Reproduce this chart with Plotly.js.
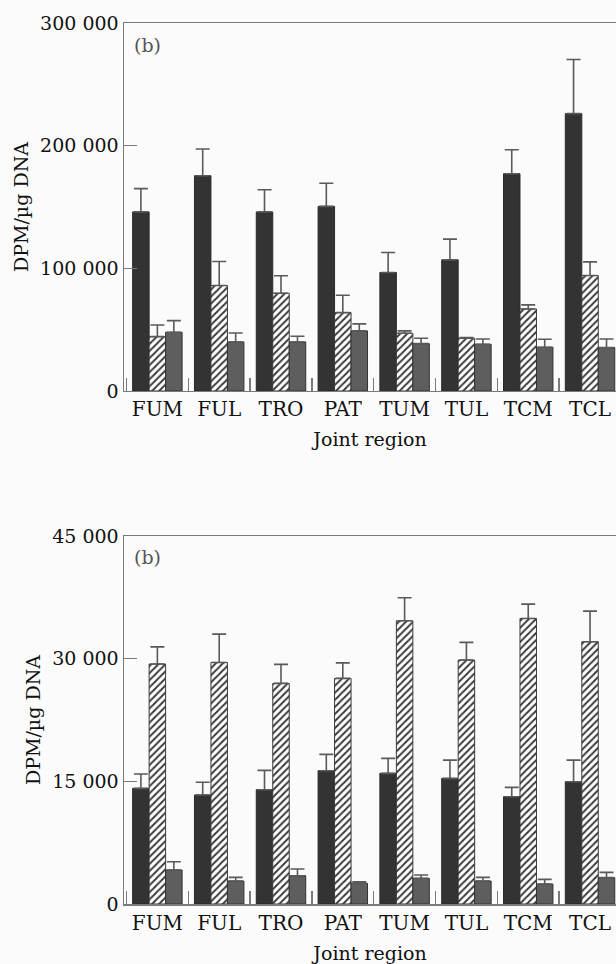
<!DOCTYPE html>
<html>
<head>
<meta charset="utf-8">
<script src="https://cdn.plot.ly/plotly-3.0.1.min.js"></script>
<style>html,body{margin:0;padding:0;background:#fbfbfb;}#chart{width:616px;height:964px;}</style>
</head>
<body>
<div id="chart"></div>
<script>
const regions = ['FUM','FUL','TRO','PAT','TUM','TUL','TCM','TCL'];

// Panel 1 (top)
const topDark      = [146000, 175500, 146000, 150500,  96600, 106900, 177100, 226100];
const topDarkErr   = [ 19000,  21800,  18000,  18800,  16300,  16900,  19600,  44100];
const topHatch     = [ 44300,  86000,  79700,  63900,  47100,  43000,  66900,  94100];
const topHatchErr  = [  9500,  19600,  14200,  14200,   1900,    500,   3300,  11200];
const topGray      = [ 47900,  40000,  40000,  49000,  38600,  38100,  35700,  35400];
const topGrayErr   = [  9500,   7300,   4600,   5700,   4400,   4300,   6500,   7000];

// Panel 2 (bottom)
const botDark      = [14140, 13330, 13980, 16300, 15980, 15360, 13120, 14950];
const botDarkErr   = [ 1750,  1550,  2360,  2000,  1830,  2240,  1140,  2650];
const botHatch     = [29340, 29540, 26980, 27590, 34640, 29830, 34920, 32070];
const botHatchErr  = [ 2100,  3460,  2320,  1900,  2810,  2160,  1750,  3750];
const botGray      = [ 4160,  2810,  3460,  2530,  3140,  2810,  2440,  3220];
const botGrayErr   = [ 1000,   450,   820,   200,   400,   450,   570,   650];

const topTickVals = [0, 100000, 200000, 300000];
const topTickText = ['0', '100 000', '200 000', '300 000'];
const botTickVals = [0, 15000, 30000, 45000];
const botTickText = ['0', '15 000', '30 000', '45 000'];

const FONT = 'DejaVu Serif, Liberation Serif, serif';
const zeros = a => a.map(() => 0);

function errY(arr){
  return {type:'data', symmetric:false, array:arr, arrayminus:zeros(arr),
          color:'#5a5a5a', thickness:1.6, width:7, visible:true};
}

function makeTraces(dark, darkErr, hatch, hatchErr, gray, grayErr, xa, ya){
  return [
    {type:'bar', x:regions, y:dark, xaxis:xa, yaxis:ya, showlegend:false,
     marker:{color:'#333333', line:{color:'#2a2a2a', width:1}}, error_y:errY(darkErr), hoverinfo:'skip'},
    {type:'bar', x:regions, y:hatch, xaxis:xa, yaxis:ya, showlegend:false,
     marker:{color:'#ffffff', line:{color:'#3a3a3a', width:1},
             pattern:{shape:'/', fgcolor:'#3a3a3a', bgcolor:'#ffffff', size:5, solidity:0.4}},
     error_y:errY(hatchErr), hoverinfo:'skip'},
    {type:'bar', x:regions, y:gray, xaxis:xa, yaxis:ya, showlegend:false,
     marker:{color:'#5e5e5e', line:{color:'#333333', width:1}}, error_y:errY(grayErr), hoverinfo:'skip'}
  ];
}

const data = [
  ...makeTraces(topDark, topDarkErr, topHatch, topHatchErr, topGray, topGrayErr, 'x', 'y'),
  ...makeTraces(botDark, botDarkErr, botHatch, botHatchErr, botGray, botGrayErr, 'x2', 'y2')
];

const axColor = '#7a7a7a';
function xAxis(anchor, standoff){
  return {anchor:anchor, domain:[0,1], type:'category', categoryarray:regions,
    range:[-0.54, 7.42], showline:true, linecolor:axColor, linewidth:1.5, mirror:true,
    ticks:'inside', tickson:'boundaries', ticklen:13, tickwidth:1.5, tickcolor:axColor,
    showgrid:false, zeroline:false, fixedrange:true,
    tickfont:{family:FONT, size:20, color:'#111'},
    title:{text:'Joint region', font:{family:FONT, size:19, color:'#111'}, standoff:standoff}};
}
function yAxis(anchor, domain, range, tv, tt){
  return {anchor:anchor, domain:domain, range:range, tickmode:'array', tickvals:tv, ticktext:tt,
    showline:true, linecolor:axColor, linewidth:1.5, mirror:false,
    ticks:'inside', ticklen:13, tickwidth:1.5, tickcolor:axColor,
    showgrid:false, zeroline:false, fixedrange:true,
    tickfont:{family:FONT, size:19, color:'#111'},
    title:{text:'DPM/µg DNA', font:{family:FONT, size:19, color:'#111'}, standoff:6}};
}

const layout = {
  width:616, height:964,
  margin:{l:124, r:0, t:23, b:60, pad:0},
  paper_bgcolor:'#fbfbfb', plot_bgcolor:'#fbfbfb',
  barmode:'group', bargap:0.2, bargroupgap:0,
  showlegend:false,
  font:{family:FONT, color:'#111'},
  xaxis: xAxis('y', 12),
  yaxis: yAxis('x', [0.5823, 1], [0, 300000], topTickVals, topTickText),
  xaxis2: xAxis('y2', 16),
  yaxis2: yAxis('x2', [0, 0.4177], [0, 45000], botTickVals, botTickText),
  annotations:[
    {text:'(b)', xref:'x domain', yref:'y domain', x:0.016, y:0.94, xanchor:'left', yanchor:'middle',
     showarrow:false, font:{family:FONT, size:19, color:'#555'}},
    {text:'(b)', xref:'x2 domain', yref:'y2 domain', x:0.016, y:0.943, xanchor:'left', yanchor:'middle',
     showarrow:false, font:{family:FONT, size:19, color:'#555'}}
  ]
};

Plotly.newPlot('chart', data, layout, {displayModeBar:false, staticPlot:true});
</script>
</body>
</html>
